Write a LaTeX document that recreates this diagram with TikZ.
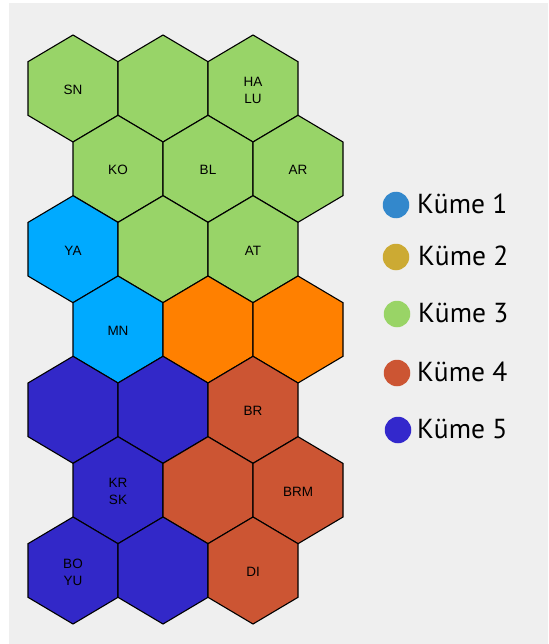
\documentclass[tikz,border=0pt]{standalone}
\usepackage{fontspec}
\setmainfont{Liberation Sans}
\newfontfamily\legendfont{PT Sans}
\definecolor{cgreen}{HTML}{98D468}
\definecolor{ccyan}{HTML}{00AAFF}
\definecolor{corange}{HTML}{FF8000}
\definecolor{cred}{HTML}{CC5533}
\definecolor{cblue}{HTML}{3228C8}
\definecolor{lone}{HTML}{3388CC}
\definecolor{ltwo}{HTML}{CCAA33}
\definecolor{lthree}{HTML}{99D466}
\definecolor{lfour}{HTML}{CC5533}
\definecolor{lfive}{HTML}{3328CC}
\definecolor{bggray}{HTML}{EFEFEF}
\tikzset{
  hexcell/.style={draw=black, line width=1.1pt, line join=miter},
  hexlabel/.style={font=\fontsize{13.5}{17}\selectfont, align=center, inner sep=0pt, text=black},
  legdot/.style={circle, minimum size=26.5pt, inner sep=0pt, draw=none},
  legtext/.style={font=\legendfont\fontsize{27.5}{27.5}\selectfont, anchor=west, inner sep=0pt, text=black}
}
\newcommand{\hexat}[4]{%
  \filldraw[hexcell, fill=#3] (#1,#2-53.5) -- (#1+45,#2-26.8) -- (#1+45,#2+26.8) -- (#1,#2+53.5) -- (#1-45,#2+26.8) -- (#1-45,#2-26.8) -- cycle;
  \coordinate (#4) at (#1,#2+1.5);
}
\begin{document}
\begin{tikzpicture}[x=1pt,y=-1pt]
\useasboundingbox (0,0) rectangle (548,644);
\fill[white] (0,0) rectangle (548,644);
\fill[bggray] (9,3) rectangle (548,644);
% cells
\hexat{73}{88.5}{cgreen}{sn}
\hexat{163}{88.5}{cgreen}{ga}
\hexat{253}{88.5}{cgreen}{ha}
\hexat{118}{168.8}{cgreen}{ko}
\hexat{208}{168.8}{cgreen}{bl}
\hexat{298}{168.8}{cgreen}{ar}
\hexat{73}{249.2}{ccyan}{ya}
\hexat{163}{249.2}{cgreen}{gb}
\hexat{253}{249.2}{cgreen}{at}
\hexat{118}{329.5}{ccyan}{mn}
\hexat{208}{329.5}{corange}{oa}
\hexat{298}{329.5}{corange}{ob}
\hexat{73}{409.8}{cblue}{ba}
\hexat{163}{409.8}{cblue}{bb}
\hexat{253}{409.8}{cred}{br}
\hexat{118}{490.2}{cblue}{kr}
\hexat{208}{490.2}{cred}{ra}
\hexat{298}{490.2}{cred}{brm}
\hexat{73}{570.5}{cblue}{bo}
\hexat{163}{570.5}{cblue}{bc}
\hexat{253}{570.5}{cred}{di}
% labels
\node[hexlabel] (lsn) at (sn) {SN};
\node[hexlabel] (lha) at (ha) {HA\\LU};
\node[hexlabel] (lko) at (ko) {KO};
\node[hexlabel] (lbl) at (bl) {BL};
\node[hexlabel] (lar) at (ar) {AR};
\node[hexlabel] (lya) at (ya) {YA};
\node[hexlabel] (lat) at (at) {AT};
\node[hexlabel] (lmn) at (mn) {MN};
\node[hexlabel] (lbr) at (br) {BR};
\node[hexlabel] (lkr) at (kr) {KR\\SK};
\node[hexlabel] (lbrm) at (brm) {BRM};
\node[hexlabel] (lbo) at (bo) {BO\\YU};
\node[hexlabel] (ldi) at (di) {DI};
% legend
\node[legdot, fill=lone] (d1) at (396,205) {};
\node[legtext] (t1) at (417,204) {Küme 1};
\node[legdot, fill=ltwo] (d2) at (396,257) {};
\node[legtext] (t2) at (418,256) {Küme 2};
\node[legdot, fill=lthree] (d3) at (397,314) {};
\node[legtext] (t3) at (418,313) {Küme 3};
\node[legdot, fill=lfour] (d4) at (397,373) {};
\node[legtext] (t4) at (417,372) {Küme 4};
\node[legdot, fill=lfive] (d5) at (398,430) {};
\node[legtext] (t5) at (417,429) {Küme 5};
\end{tikzpicture}
\end{document}
